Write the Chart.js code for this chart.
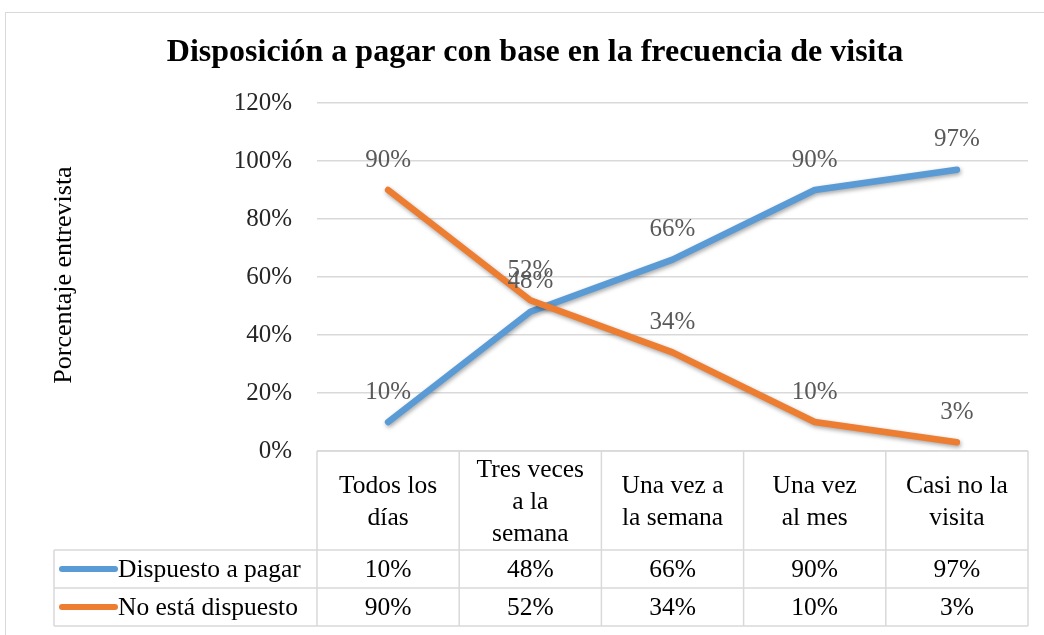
<!DOCTYPE html>
<html lang="es">
<head>
<meta charset="UTF-8">
<title>Disposición a pagar con base en la frecuencia de visita</title>
<script src="https://cdn.jsdelivr.net/npm/chart.js"></script>
<style>
  body { margin: 0; background: #fff; }
  #wrap { width: 1044px; height: 635px; }
</style>
</head>
<body>
<div id="wrap"><canvas id="chart" width="1044" height="635"></canvas></div>
<script>
// data
const categories = [['Todos los', 'días'], ['Tres veces', 'a la', 'semana'], ['Una vez a', 'la semana'], ['Una vez', 'al mes'], ['Casi no la', 'visita']];
const seriesNames = ['Dispuesto a pagar', 'No está dispuesto'];
const dispuesto = [0.10, 0.48, 0.66, 0.90, 0.97];
const noDispuesto = [0.90, 0.52, 0.34, 0.10, 0.03];
const colors = ['#5B9BD5', '#ED7D31'];

const SERIF = '"Liberation Serif", "Times New Roman", serif';
const pct = v => Math.round(v * 100) + '%';

// frame, title, axis title
const framePlugin = {
  id: 'frame',
  beforeDraw(chart) {
    const ctx = chart.ctx;
    ctx.save();
    ctx.strokeStyle = '#d9d9d9';
    ctx.lineWidth = 1;
    ctx.strokeRect(5.5, 12.5, 1100, 700);
    ctx.fillStyle = '#000';
    ctx.font = 'bold 32px ' + SERIF;
    ctx.textAlign = 'center';
    ctx.textBaseline = 'middle';
    ctx.fillText('Disposición a pagar con base en la frecuencia de visita', 535, 53);
    ctx.translate(64, 275);
    ctx.rotate(-Math.PI / 2);
    ctx.font = '26px ' + SERIF;
    ctx.fillText('Porcentaje entrevista', 0, 0);
    ctx.restore();
  }
};

// soft shadow under the lines
const shadowPlugin = {
  id: 'lineShadow',
  beforeDatasetDraw(chart) {
    const ctx = chart.ctx;
    ctx.save();
    ctx.shadowColor = 'rgba(0,0,0,0.35)';
    ctx.shadowBlur = 4;
    ctx.shadowOffsetX = 1;
    ctx.shadowOffsetY = 2;
  },
  afterDatasetDraw(chart) {
    chart.ctx.restore();
  }
};

// value labels above each point
const labelPlugin = {
  id: 'valueLabels',
  afterDatasetsDraw(chart) {
    const ctx = chart.ctx;
    ctx.save();
    ctx.font = '25px ' + SERIF;
    ctx.fillStyle = '#595959';
    ctx.textAlign = 'center';
    ctx.textBaseline = 'middle';
    chart.data.datasets.forEach((ds, d) => {
      chart.getDatasetMeta(d).data.forEach((pt, i) => {
        ctx.fillText(pct(ds.data[i]), pt.x, pt.y - 30);
      });
    });
    ctx.restore();
  }
};

// data table under the plot
const tablePlugin = {
  id: 'dataTable',
  afterDraw(chart) {
    const { ctx, chartArea, scales: { x } } = chart;
    const n = chart.data.labels.length;
    const colW = (chartArea.right - chartArea.left) / n;
    const top = chartArea.bottom;
    const headBottom = top + 99;
    const rowH = 38;
    const legLeft = 54;
    const L = chartArea.left, R = chartArea.right;

    ctx.save();
    ctx.strokeStyle = '#d9d9d9';
    ctx.lineWidth = 1.5;
    ctx.beginPath();
    ctx.moveTo(L, top); ctx.lineTo(R, top);
    for (let r = 0; r <= 2; r++) {
      const y = headBottom + r * rowH;
      ctx.moveTo(legLeft, y); ctx.lineTo(R, y);
    }
    ctx.moveTo(legLeft, headBottom); ctx.lineTo(legLeft, headBottom + 2 * rowH);
    for (let i = 0; i <= n; i++) {
      const xx = L + i * colW;
      ctx.moveTo(xx, top); ctx.lineTo(xx, headBottom + 2 * rowH);
    }
    ctx.stroke();

    ctx.fillStyle = '#000';
    ctx.font = '25.5px ' + SERIF;
    ctx.textAlign = 'center';
    ctx.textBaseline = 'middle';
    const lh = 32;
    chart.data.labels.forEach((lab, i) => {
      const cx = x.getPixelForValue(i);
      const lines = Array.isArray(lab) ? lab : [lab];
      const y0 = (top + headBottom) / 2 + 2 - (lines.length - 1) * lh / 2;
      lines.forEach((t, k) => ctx.fillText(t, cx, y0 + k * lh));
    });

    chart.data.datasets.forEach((ds, d) => {
      const cy = headBottom + d * rowH + rowH / 2;
      ds.data.forEach((v, i) => ctx.fillText(pct(v), x.getPixelForValue(i), cy + 1));
      ctx.strokeStyle = ds.borderColor;
      ctx.lineWidth = 6;
      ctx.lineCap = 'round';
      ctx.beginPath();
      ctx.moveTo(62, cy); ctx.lineTo(115, cy);
      ctx.stroke();
      ctx.textAlign = 'left';
      ctx.fillText(ds.label, 118, cy + 1);
      ctx.textAlign = 'center';
    });
    ctx.restore();
  }
};

new Chart(document.getElementById('chart'), {
  type: 'line',
  data: {
    labels: categories,
    datasets: [
      { label: seriesNames[0], data: dispuesto, borderColor: colors[0], backgroundColor: colors[0], order: 1 },
      { label: seriesNames[1], data: noDispuesto, borderColor: colors[1], backgroundColor: colors[1], order: 0 }
    ]
  },
  options: {
    responsive: false,
    animation: false,
    layout: { padding: { left: 0, right: 16, top: 103, bottom: 176 } },
    elements: {
      line: { borderWidth: 6.5, tension: 0, borderCapStyle: 'round', borderJoinStyle: 'round' },
      point: { radius: 0 }
    },
    plugins: {
      legend: { display: false },
      tooltip: { enabled: false }
    },
    scales: {
      x: {
        offset: true,
        ticks: { display: false },
        grid: { display: false },
        border: { display: false }
      },
      y: {
        min: 0,
        max: 1.2,
        afterFit(scale) { scale.width = 317; },
        ticks: {
          stepSize: 0.2,
          padding: 25,
          color: '#262626',
          font: { family: SERIF, size: 25 },
          callback: v => pct(v)
        },
        grid: { color: '#d9d9d9', lineWidth: 1.5, drawTicks: false },
        border: { display: false }
      }
    }
  },
  plugins: [framePlugin, shadowPlugin, labelPlugin, tablePlugin]
});
</script>
</body>
</html>
